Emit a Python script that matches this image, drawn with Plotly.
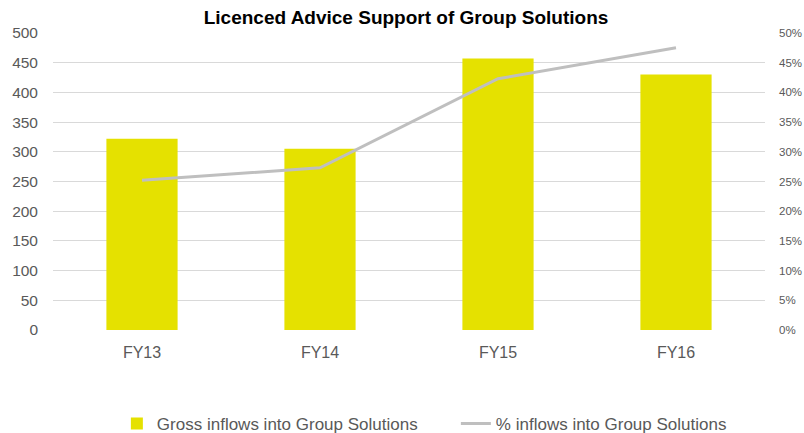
import plotly.graph_objects as go

categories = ["FY13", "FY14", "FY15", "FY16"]
gross_inflows = [322, 305, 457, 430]
pct_inflows = [25.2, 27.3, 42.3, 47.5]

fig = go.Figure()
fig.add_trace(go.Bar(
    x=categories, y=gross_inflows, name="Gross inflows into Group Solutions",
    marker=dict(color="#E5E100", line=dict(width=0)), width=0.4, yaxis="y",
))
fig.add_trace(go.Scatter(
    x=categories, y=pct_inflows, name="% inflows into Group Solutions",
    mode="lines", line=dict(color="#BFBFBF", width=3), yaxis="y2",
))

fig.update_layout(
    width=804, height=433,
    margin=dict(l=53, r=39, t=33, b=103),
    paper_bgcolor="white", plot_bgcolor="white",
    font=dict(family="Liberation Sans, Arial, sans-serif", color="#595959", size=16),
    title=dict(text="<b>Licenced Advice Support of Group Solutions</b>",
               x=0.505, xref="container", xanchor="center",
               y=0.96, yref="container", yanchor="middle",
               font=dict(size=19, color="#000000")),
    xaxis=dict(showgrid=False, showline=False, ticks="", tickfont=dict(size=16),
               ticklabelstandoff=11, automargin=False),
    yaxis=dict(range=[0, 500], dtick=50, gridcolor="#D9D9D9", gridwidth=1,
               zeroline=False, showline=False, ticks="", tickfont=dict(size=15.5),
               ticklabelstandoff=14, automargin=False),
    yaxis2=dict(range=[0, 50], dtick=5, ticksuffix="%", overlaying="y", side="right",
                showgrid=False, zeroline=False, showline=False, ticks="",
                tickfont=dict(size=11.5), ticklabelstandoff=13, automargin=False),
    showlegend=True,
    legend=dict(orientation="h", x=0.567, xanchor="center", xref="container",
                y=0.021, yref="container", yanchor="middle",
                font=dict(size=17, color="#595959"),
                entrywidth=294, itemwidth=30, traceorder="normal"),
    bargap=0.6,
)

fig.write_html("out.html", config={"displayModeBar": False},
               post_script="document.body.style.margin='0px';")
